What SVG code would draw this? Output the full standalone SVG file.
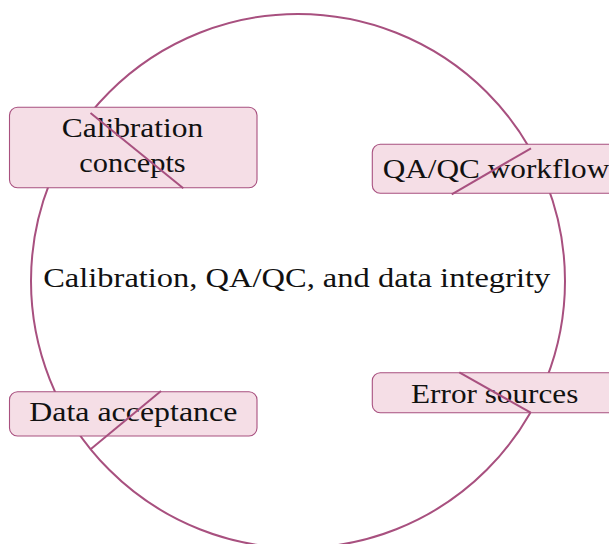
<svg xmlns="http://www.w3.org/2000/svg" width="609" height="544" viewBox="0 0 609 544">
<style>
.ring{fill:none;stroke:#a8507f;stroke-width:2}
.box{fill:#f5dee6;stroke:#a8507f;stroke-width:1.1}
.lnk{fill:none;stroke:#a8507f;stroke-width:2}
text{font-family:"Liberation Serif","DejaVu Serif",serif;font-size:28px;fill:#111;text-anchor:middle}
</style>
<rect width="609" height="544" fill="#fff"/>
<g id="cycle">
<circle class="ring" cx="298" cy="281" r="267"/>
</g>
<g id="center-label">
<text x="296.7" y="287.3" textLength="507" lengthAdjust="spacingAndGlyphs">Calibration, QA/QC, and data integrity</text>
</g>
<g id="node-calibration">
<rect class="box" x="9.5" y="107.3" width="247.5" height="80.4" rx="8"/>
<text x="132.5" y="136.7" textLength="141.6" lengthAdjust="spacingAndGlyphs">Calibration</text>
<text x="132.5" y="172.3" textLength="106.4" lengthAdjust="spacingAndGlyphs">concepts</text>
</g>
<g id="node-qaqc">
<rect class="box" x="372.3" y="144.3" width="247.5" height="49" rx="8"/>
<text x="496" y="177.7" textLength="226.6" lengthAdjust="spacingAndGlyphs">QA/QC workflow</text>
</g>
<g id="node-error">
<rect class="box" x="372.3" y="372.7" width="247.5" height="40" rx="8"/>
<text x="494.7" y="402.7" textLength="167.3" lengthAdjust="spacingAndGlyphs">Error sources</text>
</g>
<g id="node-acceptance">
<rect class="box" x="9.5" y="391.7" width="247.5" height="44.3" rx="8"/>
<text x="133.3" y="420.7" textLength="208" lengthAdjust="spacingAndGlyphs">Data acceptance</text>
</g>
<g id="connectors">
<line class="lnk" x1="90.5" y1="113" x2="183.3" y2="188.3"/>
<line class="lnk" x1="531" y1="148.3" x2="451.7" y2="194.3"/>
<line class="lnk" x1="530.7" y1="412.7" x2="459.3" y2="372.3"/>
<line class="lnk" x1="90.6" y1="449.3" x2="161" y2="391"/>
</g>
</svg>
